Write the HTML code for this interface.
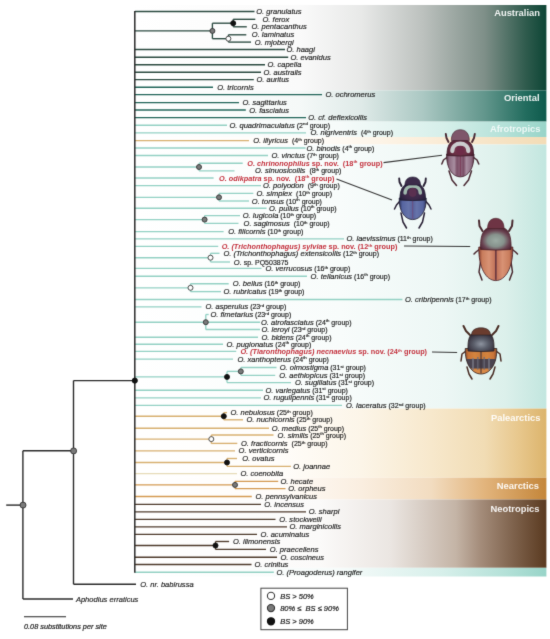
<!DOCTYPE html>
<html><head><meta charset="utf-8"><style>
html,body{margin:0;padding:0;background:#ffffff;}
body{width:550px;height:639px;overflow:hidden;font-family:"Liberation Sans",sans-serif;}
svg{display:block;}
</style></head><body>
<svg width="550" height="639" viewBox="0 0 550 639"><defs><filter id="soft" x="0" y="0" width="550" height="639" filterUnits="userSpaceOnUse" color-interpolation-filters="sRGB"><feConvolveMatrix order="3" kernelMatrix="0.0183 0.1353 0.0183 0.1353 1.0000 0.1353 0.0183 0.1353 0.0183" edgeMode="duplicate" preserveAlpha="true"/></filter></defs><g filter="url(#soft)"><rect width="550" height="639" fill="#fff"/><defs>
<linearGradient id="g_aus" x1="0" x2="1" y1="0" y2="0"><stop offset="0" stop-color="#ffffff"/><stop offset="0.4" stop-color="#fafafa"/><stop offset="0.55" stop-color="#e8e9e8"/><stop offset="0.7" stop-color="#bcc1be"/><stop offset="0.85" stop-color="#7e8f88"/><stop offset="0.95" stop-color="#2f5b4d"/><stop offset="1" stop-color="#0d4535"/></linearGradient>
<linearGradient id="g_ori" x1="0" x2="1" y1="0" y2="0"><stop offset="0" stop-color="#ffffff"/><stop offset="0.4" stop-color="#f5f9f8"/><stop offset="0.55" stop-color="#dfeae8"/><stop offset="0.7" stop-color="#abc8c3"/><stop offset="0.85" stop-color="#62968c"/><stop offset="0.95" stop-color="#226c5e"/><stop offset="1" stop-color="#0e5a4c"/></linearGradient>
<linearGradient id="g_afr" x1="0" x2="1" y1="0" y2="0"><stop offset="0" stop-color="#ffffff"/><stop offset="0.5" stop-color="#f8fcfb"/><stop offset="0.75" stop-color="#edf7f5"/><stop offset="0.9" stop-color="#dcf0eb"/><stop offset="1" stop-color="#c2e6df"/></linearGradient>
<linearGradient id="g_afrt" x1="0" x2="1" y1="0" y2="0"><stop offset="0" stop-color="#ffffff"/><stop offset="0.5" stop-color="#f6fbfa"/><stop offset="0.75" stop-color="#d6efea"/><stop offset="0.9" stop-color="#b4e1d8"/><stop offset="1" stop-color="#98d4c8"/></linearGradient>
<linearGradient id="g_pal" x1="0" x2="1" y1="0" y2="0"><stop offset="0" stop-color="#ffffff"/><stop offset="0.35" stop-color="#fffdfa"/><stop offset="0.55" stop-color="#fcf5e8"/><stop offset="0.72" stop-color="#f7e8cc"/><stop offset="0.85" stop-color="#f1dcb4"/><stop offset="0.93" stop-color="#e8c88e"/><stop offset="1" stop-color="#dcb46c"/></linearGradient>
<linearGradient id="g_pal2" x1="0" x2="1" y1="0" y2="0"><stop offset="0" stop-color="#ffffff"/><stop offset="0.45" stop-color="#fffcf8"/><stop offset="0.7" stop-color="#fbeedb"/><stop offset="1" stop-color="#f3dcb6"/></linearGradient>
<linearGradient id="g_nea" x1="0" x2="1" y1="0" y2="0"><stop offset="0" stop-color="#ffffff"/><stop offset="0.35" stop-color="#fffcf9"/><stop offset="0.55" stop-color="#faeee0"/><stop offset="0.72" stop-color="#f2dcc0"/><stop offset="0.85" stop-color="#e2b47c"/><stop offset="1" stop-color="#c4863a"/></linearGradient>
<linearGradient id="g_neo" x1="0" x2="1" y1="0" y2="0"><stop offset="0" stop-color="#ffffff"/><stop offset="0.45" stop-color="#fbfaf9"/><stop offset="0.62" stop-color="#ebe6e2"/><stop offset="0.78" stop-color="#c4b4a6"/><stop offset="0.84" stop-color="#a48c7a"/><stop offset="0.92" stop-color="#7e624c"/><stop offset="1" stop-color="#5a3a20"/></linearGradient>
</defs>
<rect x="135" y="5" width="411.4" height="85.40" fill="url(#g_aus)"/>
<rect x="135" y="90.4" width="411.4" height="31.20" fill="url(#g_ori)"/>
<rect x="135" y="121.6" width="411.4" height="15.40" fill="url(#g_afrt)"/>
<rect x="135" y="137.0" width="411.4" height="7.50" fill="url(#g_pal2)"/>
<rect x="135" y="144.5" width="411.4" height="264.10" fill="url(#g_afr)"/>
<rect x="135" y="408.6" width="411.4" height="69.10" fill="url(#g_pal)"/>
<rect x="135" y="477.7" width="411.4" height="21.80" fill="url(#g_nea)"/>
<rect x="135" y="499.5" width="411.4" height="68.30" fill="url(#g_neo)"/>
<rect x="135" y="567.8" width="411.4" height="8.70" fill="url(#g_afrt)"/>
<text x="540" y="15.6" text-anchor="end" font-family="Liberation Sans" font-weight="bold" font-size="9.4" fill="#ffffff" fill-opacity="0.92">Australian</text>
<text x="539.5" y="100.8" text-anchor="end" font-family="Liberation Sans" font-weight="bold" font-size="9.4" fill="#ffffff" fill-opacity="0.92">Oriental</text>
<text x="540.5" y="131.6" text-anchor="end" font-family="Liberation Sans" font-weight="bold" font-size="9.4" fill="#ffffff" fill-opacity="0.8">Afrotropics</text>
<text x="540.5" y="421" text-anchor="end" font-family="Liberation Sans" font-weight="bold" font-size="9.4" fill="#ffffff" fill-opacity="0.92">Palearctics</text>
<text x="539" y="489" text-anchor="end" font-family="Liberation Sans" font-weight="bold" font-size="9.4" fill="#ffffff" fill-opacity="0.92">Nearctics</text>
<text x="539.5" y="512.3" text-anchor="end" font-family="Liberation Sans" font-weight="bold" font-size="9.4" fill="#ffffff" fill-opacity="0.92">Neotropics</text>
<line x1="135" y1="11.5" x2="254.5" y2="11.5" stroke="#2b4a40" stroke-width="1.35"/>
<line x1="233.2" y1="19.3" x2="255.3" y2="19.3" stroke="#2b4a40" stroke-width="1.35"/>
<line x1="233.2" y1="26.8" x2="246.8" y2="26.8" stroke="#2b4a40" stroke-width="1.35"/>
<line x1="228.4" y1="34.8" x2="246.3" y2="34.8" stroke="#2b4a40" stroke-width="1.35"/>
<line x1="228.4" y1="42.1" x2="251" y2="42.1" stroke="#2b4a40" stroke-width="1.35"/>
<line x1="135" y1="49.5" x2="285" y2="49.5" stroke="#2b4a40" stroke-width="1.35"/>
<line x1="135" y1="57.2" x2="288.2" y2="57.2" stroke="#2b4a40" stroke-width="1.35"/>
<line x1="135" y1="64.7" x2="265" y2="64.7" stroke="#2b4a40" stroke-width="1.35"/>
<line x1="135" y1="72.2" x2="261" y2="72.2" stroke="#2b4a40" stroke-width="1.35"/>
<line x1="135" y1="79.6" x2="253.8" y2="79.6" stroke="#2b4a40" stroke-width="1.35"/>
<line x1="135" y1="87.2" x2="213" y2="87.2" stroke="#22665a" stroke-width="1.35"/>
<line x1="135" y1="94.6" x2="322" y2="94.6" stroke="#22665a" stroke-width="1.35"/>
<line x1="135" y1="102.6" x2="239" y2="102.6" stroke="#22665a" stroke-width="1.35"/>
<line x1="135" y1="110" x2="245.8" y2="110" stroke="#22665a" stroke-width="1.35"/>
<line x1="135" y1="117.6" x2="306" y2="117.6" stroke="#22665a" stroke-width="1.35"/>
<line x1="135" y1="125.2" x2="227" y2="125.2" stroke="#93d1c4" stroke-width="1.35"/>
<line x1="135" y1="132.8" x2="306" y2="132.8" stroke="#93d1c4" stroke-width="1.35"/>
<line x1="135" y1="140.6" x2="249" y2="140.6" stroke="#d8b070" stroke-width="1.35"/>
<line x1="135" y1="148" x2="305.6" y2="148" stroke="#93d1c4" stroke-width="1.35"/>
<line x1="135" y1="155.5" x2="268" y2="155.5" stroke="#93d1c4" stroke-width="1.35"/>
<line x1="199" y1="163.2" x2="242.7" y2="163.2" stroke="#93d1c4" stroke-width="1.35"/>
<line x1="199" y1="170.8" x2="234.5" y2="170.8" stroke="#93d1c4" stroke-width="1.35"/>
<line x1="135" y1="178" x2="213.6" y2="178" stroke="#93d1c4" stroke-width="1.35"/>
<line x1="135" y1="185.6" x2="261" y2="185.6" stroke="#93d1c4" stroke-width="1.35"/>
<line x1="219" y1="193.4" x2="253.3" y2="193.4" stroke="#93d1c4" stroke-width="1.35"/>
<line x1="219" y1="201.0" x2="249" y2="201.0" stroke="#93d1c4" stroke-width="1.35"/>
<line x1="135" y1="208.2" x2="266.5" y2="208.2" stroke="#93d1c4" stroke-width="1.35"/>
<line x1="204.6" y1="215.6" x2="240" y2="215.6" stroke="#93d1c4" stroke-width="1.35"/>
<line x1="204.6" y1="223.4" x2="238.5" y2="223.4" stroke="#93d1c4" stroke-width="1.35"/>
<line x1="135" y1="231.6" x2="223.6" y2="231.6" stroke="#93d1c4" stroke-width="1.35"/>
<line x1="135" y1="238.9" x2="344" y2="238.9" stroke="#93d1c4" stroke-width="1.35"/>
<line x1="135" y1="246.3" x2="218.2" y2="246.3" stroke="#93d1c4" stroke-width="1.35"/>
<line x1="210.5" y1="253.3" x2="219.5" y2="253.3" stroke="#93d1c4" stroke-width="1.35"/>
<line x1="210.5" y1="262.0" x2="230" y2="262.0" stroke="#93d1c4" stroke-width="1.35"/>
<line x1="135" y1="268.4" x2="261.5" y2="268.4" stroke="#93d1c4" stroke-width="1.35"/>
<line x1="135" y1="276.2" x2="307" y2="276.2" stroke="#93d1c4" stroke-width="1.35"/>
<line x1="190.5" y1="283.7" x2="228.7" y2="283.7" stroke="#93d1c4" stroke-width="1.35"/>
<line x1="190.5" y1="291.6" x2="220.9" y2="291.6" stroke="#93d1c4" stroke-width="1.35"/>
<line x1="135" y1="299.5" x2="402.4" y2="299.5" stroke="#93d1c4" stroke-width="1.35"/>
<line x1="135" y1="306.9" x2="201.5" y2="306.9" stroke="#93d1c4" stroke-width="1.35"/>
<line x1="205.8" y1="314.5" x2="208.7" y2="314.5" stroke="#93d1c4" stroke-width="1.35"/>
<line x1="205.8" y1="322.2" x2="260" y2="322.2" stroke="#93d1c4" stroke-width="1.35"/>
<line x1="205.8" y1="329.5" x2="260" y2="329.5" stroke="#93d1c4" stroke-width="1.35"/>
<line x1="135" y1="337.2" x2="258" y2="337.2" stroke="#93d1c4" stroke-width="1.35"/>
<line x1="135" y1="344.2" x2="223" y2="344.2" stroke="#93d1c4" stroke-width="1.35"/>
<line x1="135" y1="351.4" x2="236.2" y2="351.4" stroke="#93d1c4" stroke-width="1.35"/>
<line x1="135" y1="359.1" x2="233" y2="359.1" stroke="#93d1c4" stroke-width="1.35"/>
<line x1="241" y1="367.5" x2="276.5" y2="367.5" stroke="#93d1c4" stroke-width="1.35"/>
<line x1="241" y1="375.3" x2="275.2" y2="375.3" stroke="#93d1c4" stroke-width="1.35"/>
<line x1="227" y1="382.6" x2="291" y2="382.6" stroke="#93d1c4" stroke-width="1.35"/>
<line x1="135" y1="390.2" x2="263" y2="390.2" stroke="#93d1c4" stroke-width="1.35"/>
<line x1="135" y1="397.8" x2="261" y2="397.8" stroke="#93d1c4" stroke-width="1.35"/>
<line x1="135" y1="405.3" x2="342" y2="405.3" stroke="#93d1c4" stroke-width="1.35"/>
<line x1="223.8" y1="412.6" x2="227" y2="412.6" stroke="#d8b070" stroke-width="1.35"/>
<line x1="223.8" y1="419.8" x2="243" y2="419.8" stroke="#d8b070" stroke-width="1.35"/>
<line x1="135" y1="428.2" x2="269" y2="428.2" stroke="#d8b070" stroke-width="1.35"/>
<line x1="211.3" y1="435.0" x2="273.5" y2="435.0" stroke="#d8b070" stroke-width="1.35"/>
<line x1="211.3" y1="443.4" x2="237.3" y2="443.4" stroke="#d8b070" stroke-width="1.35"/>
<line x1="135" y1="450.8" x2="235" y2="450.8" stroke="#d8b070" stroke-width="1.35"/>
<line x1="227" y1="458.5" x2="237" y2="458.5" stroke="#d8b070" stroke-width="1.35"/>
<line x1="227" y1="466.3" x2="290.9" y2="466.3" stroke="#d8b070" stroke-width="1.35"/>
<line x1="135" y1="473.6" x2="237" y2="473.6" stroke="#e6dcb8" stroke-width="1.35"/>
<line x1="235" y1="481.3" x2="278.2" y2="481.3" stroke="#d49a52" stroke-width="1.35"/>
<line x1="235" y1="488.6" x2="285.5" y2="488.6" stroke="#d49a52" stroke-width="1.35"/>
<line x1="135" y1="496.5" x2="251.8" y2="496.5" stroke="#d49a52" stroke-width="1.35"/>
<line x1="135" y1="504.4" x2="261" y2="504.4" stroke="#4e3b2c" stroke-width="1.35"/>
<line x1="135" y1="511.8" x2="306" y2="511.8" stroke="#4e3b2c" stroke-width="1.35"/>
<line x1="135" y1="519.4" x2="275.5" y2="519.4" stroke="#4e3b2c" stroke-width="1.35"/>
<line x1="135" y1="526.8" x2="287" y2="526.8" stroke="#4e3b2c" stroke-width="1.35"/>
<line x1="135" y1="534.3" x2="257" y2="534.3" stroke="#4e3b2c" stroke-width="1.35"/>
<line x1="215.5" y1="541.5" x2="229.1" y2="541.5" stroke="#4e3b2c" stroke-width="1.35"/>
<line x1="215.5" y1="549.4" x2="266" y2="549.4" stroke="#4e3b2c" stroke-width="1.35"/>
<line x1="135" y1="557.2" x2="277" y2="557.2" stroke="#4e3b2c" stroke-width="1.35"/>
<line x1="135" y1="564.5" x2="251.5" y2="564.5" stroke="#4e3b2c" stroke-width="1.35"/>
<line x1="135" y1="572.2" x2="273.8" y2="572.2" stroke="#93d1c4" stroke-width="1.35"/>
<line x1="73.5" y1="584.2" x2="136" y2="584.2" stroke="#2b2b2b" stroke-width="1.4"/>
<line x1="22.9" y1="599.0" x2="73" y2="599.0" stroke="#2b2b2b" stroke-width="1.4"/>
<line x1="135" y1="30.9" x2="212.4" y2="30.9" stroke="#2b4a40" stroke-width="1.35"/>
<line x1="212.4" y1="23.2" x2="212.4" y2="38.7" stroke="#2b4a40" stroke-width="1.35"/>
<line x1="212.4" y1="23.2" x2="233.2" y2="23.2" stroke="#2b4a40" stroke-width="1.35"/>
<line x1="233.2" y1="19.3" x2="233.2" y2="26.8" stroke="#2b4a40" stroke-width="1.35"/>
<line x1="212.4" y1="38.7" x2="228.4" y2="38.7" stroke="#2b4a40" stroke-width="1.35"/>
<line x1="228.4" y1="34.8" x2="228.4" y2="42.1" stroke="#2b4a40" stroke-width="1.35"/>
<line x1="135" y1="167.0" x2="199" y2="167.0" stroke="#93d1c4" stroke-width="1.35"/>
<line x1="199" y1="163.2" x2="199" y2="170.8" stroke="#93d1c4" stroke-width="1.35"/>
<line x1="135" y1="197.3" x2="219" y2="197.3" stroke="#93d1c4" stroke-width="1.35"/>
<line x1="219" y1="193.4" x2="219" y2="201.0" stroke="#93d1c4" stroke-width="1.35"/>
<line x1="135" y1="219.6" x2="204.6" y2="219.6" stroke="#93d1c4" stroke-width="1.35"/>
<line x1="204.6" y1="215.6" x2="204.6" y2="223.4" stroke="#93d1c4" stroke-width="1.35"/>
<line x1="135" y1="257.7" x2="210.5" y2="257.7" stroke="#93d1c4" stroke-width="1.35"/>
<line x1="210.5" y1="253.3" x2="210.5" y2="262.0" stroke="#93d1c4" stroke-width="1.35"/>
<line x1="135" y1="287.8" x2="190.5" y2="287.8" stroke="#93d1c4" stroke-width="1.35"/>
<line x1="190.5" y1="283.7" x2="190.5" y2="291.6" stroke="#93d1c4" stroke-width="1.35"/>
<line x1="135" y1="322.2" x2="205.8" y2="322.2" stroke="#93d1c4" stroke-width="1.35"/>
<line x1="205.8" y1="314.5" x2="205.8" y2="329.5" stroke="#93d1c4" stroke-width="1.35"/>
<line x1="135" y1="376.9" x2="227" y2="376.9" stroke="#93d1c4" stroke-width="1.35"/>
<line x1="227" y1="371.4" x2="227" y2="382.6" stroke="#93d1c4" stroke-width="1.35"/>
<line x1="227" y1="371.4" x2="240.8" y2="371.4" stroke="#93d1c4" stroke-width="1.35"/>
<line x1="240.8" y1="367.5" x2="240.8" y2="375.3" stroke="#93d1c4" stroke-width="1.35"/>
<line x1="135" y1="416.2" x2="223.8" y2="416.2" stroke="#d8b070" stroke-width="1.35"/>
<line x1="223.8" y1="412.6" x2="223.8" y2="419.8" stroke="#d8b070" stroke-width="1.35"/>
<line x1="135" y1="439.1" x2="211.3" y2="439.1" stroke="#d8b070" stroke-width="1.35"/>
<line x1="211.3" y1="435.0" x2="211.3" y2="443.4" stroke="#d8b070" stroke-width="1.35"/>
<line x1="135" y1="462.5" x2="227" y2="462.5" stroke="#d8b070" stroke-width="1.35"/>
<line x1="227" y1="458.5" x2="227" y2="466.3" stroke="#d8b070" stroke-width="1.35"/>
<line x1="135" y1="484.9" x2="235" y2="484.9" stroke="#d49a52" stroke-width="1.35"/>
<line x1="235" y1="481.2" x2="235" y2="488.6" stroke="#d49a52" stroke-width="1.35"/>
<line x1="135" y1="545.5" x2="215.5" y2="545.5" stroke="#4e3b2c" stroke-width="1.35"/>
<line x1="215.5" y1="541.5" x2="215.5" y2="549.4" stroke="#4e3b2c" stroke-width="1.35"/>
<line x1="134.8" y1="11.0" x2="134.8" y2="572.8" stroke="#2a2a2a" stroke-width="1.5"/>
<line x1="73.5" y1="380.6" x2="135" y2="380.6" stroke="#2a2a2a" stroke-width="1.4"/>
<line x1="73.5" y1="380.6" x2="73.5" y2="584.2" stroke="#2a2a2a" stroke-width="1.4"/>
<line x1="22.9" y1="450.7" x2="73.5" y2="450.7" stroke="#2a2a2a" stroke-width="1.4"/>
<line x1="22.9" y1="450.7" x2="22.9" y2="599.0" stroke="#2a2a2a" stroke-width="1.4"/>
<line x1="6.2" y1="505.1" x2="22.9" y2="505.1" stroke="#2a2a2a" stroke-width="1.4"/>
<circle cx="212.4" cy="30.9" r="2.5" fill="#7a7a7a" stroke="#333333" stroke-width="0.9"/>
<circle cx="233.2" cy="23.2" r="2.5" fill="#111111" stroke="#111111" stroke-width="0.9"/>
<circle cx="228.4" cy="38.7" r="2.5" fill="#ffffff" stroke="#3a3a3a" stroke-width="0.9"/>
<circle cx="199" cy="167.0" r="2.5" fill="#7a7a7a" stroke="#333333" stroke-width="0.9"/>
<circle cx="219" cy="197.3" r="2.5" fill="#7a7a7a" stroke="#333333" stroke-width="0.9"/>
<circle cx="204.6" cy="219.6" r="2.5" fill="#7a7a7a" stroke="#333333" stroke-width="0.9"/>
<circle cx="210.5" cy="257.7" r="2.5" fill="#ffffff" stroke="#3a3a3a" stroke-width="0.9"/>
<circle cx="190.5" cy="287.8" r="2.5" fill="#ffffff" stroke="#3a3a3a" stroke-width="0.9"/>
<circle cx="205.8" cy="322.2" r="2.5" fill="#7a7a7a" stroke="#333333" stroke-width="0.9"/>
<circle cx="227" cy="376.9" r="2.5" fill="#111111" stroke="#111111" stroke-width="0.9"/>
<circle cx="240.8" cy="371.4" r="2.5" fill="#7a7a7a" stroke="#333333" stroke-width="0.9"/>
<circle cx="223.8" cy="416.2" r="2.5" fill="#111111" stroke="#111111" stroke-width="0.9"/>
<circle cx="211.3" cy="439.1" r="2.5" fill="#ffffff" stroke="#3a3a3a" stroke-width="0.9"/>
<circle cx="227" cy="462.5" r="2.5" fill="#111111" stroke="#111111" stroke-width="0.9"/>
<circle cx="235" cy="484.9" r="2.5" fill="#7a7a7a" stroke="#333333" stroke-width="0.9"/>
<circle cx="215.5" cy="545.5" r="2.5" fill="#111111" stroke="#111111" stroke-width="0.9"/>
<circle cx="134.8" cy="380.6" r="2.6" fill="#111111" stroke="#111111" stroke-width="0.9"/>
<circle cx="73.6" cy="450.9" r="3.0" fill="#7a7a7a" stroke="#333333" stroke-width="0.9"/>
<circle cx="23.0" cy="505.1" r="3.0" fill="#7a7a7a" stroke="#333333" stroke-width="0.9"/>
<text x="256.20" y="14.05" font-family="Liberation Sans" font-size="7.55" fill="#1a1a1a" stroke="#1a1a1a" stroke-width="0.15" xml:space="preserve"><tspan font-style="italic">O. granulatus</tspan></text>
<text x="262.50" y="21.85" font-family="Liberation Sans" font-size="7.55" fill="#1a1a1a" stroke="#1a1a1a" stroke-width="0.15" xml:space="preserve"><tspan font-style="italic">O. ferox</tspan></text>
<text x="251.40" y="29.35" font-family="Liberation Sans" font-size="7.55" fill="#1a1a1a" stroke="#1a1a1a" stroke-width="0.15" xml:space="preserve"><tspan font-style="italic">O. pentacanthus</tspan></text>
<text x="251.80" y="37.35" font-family="Liberation Sans" font-size="7.55" fill="#1a1a1a" stroke="#1a1a1a" stroke-width="0.15" xml:space="preserve"><tspan font-style="italic">O. laminatus</tspan></text>
<text x="254.70" y="44.65" font-family="Liberation Sans" font-size="7.55" fill="#1a1a1a" stroke="#1a1a1a" stroke-width="0.15" xml:space="preserve"><tspan font-style="italic">O. mjobergi</tspan></text>
<text x="286.40" y="52.05" font-family="Liberation Sans" font-size="7.55" fill="#1a1a1a" stroke="#1a1a1a" stroke-width="0.15" xml:space="preserve"><tspan font-style="italic">O. haagi</tspan></text>
<text x="290.40" y="59.75" font-family="Liberation Sans" font-size="7.55" fill="#1a1a1a" stroke="#1a1a1a" stroke-width="0.15" xml:space="preserve"><tspan font-style="italic">O. evanidus</tspan></text>
<text x="267.40" y="67.25" font-family="Liberation Sans" font-size="7.55" fill="#1a1a1a" stroke="#1a1a1a" stroke-width="0.15" xml:space="preserve"><tspan font-style="italic">O. capella</tspan></text>
<text x="263.40" y="74.75" font-family="Liberation Sans" font-size="7.55" fill="#1a1a1a" stroke="#1a1a1a" stroke-width="0.15" xml:space="preserve"><tspan font-style="italic">O. australis</tspan></text>
<text x="256.40" y="82.15" font-family="Liberation Sans" font-size="7.55" fill="#1a1a1a" stroke="#1a1a1a" stroke-width="0.15" xml:space="preserve"><tspan font-style="italic">O. auritus</tspan></text>
<text x="217.20" y="89.75" font-family="Liberation Sans" font-size="7.55" fill="#1a1a1a" stroke="#1a1a1a" stroke-width="0.15" xml:space="preserve"><tspan font-style="italic">O. tricornis</tspan></text>
<text x="325.40" y="97.15" font-family="Liberation Sans" font-size="7.55" fill="#1a1a1a" stroke="#1a1a1a" stroke-width="0.15" xml:space="preserve"><tspan font-style="italic">O. ochromerus</tspan></text>
<text x="242.40" y="105.15" font-family="Liberation Sans" font-size="7.55" fill="#1a1a1a" stroke="#1a1a1a" stroke-width="0.15" xml:space="preserve"><tspan font-style="italic">O. sagittarius</tspan></text>
<text x="249.20" y="112.55" font-family="Liberation Sans" font-size="7.55" fill="#1a1a1a" stroke="#1a1a1a" stroke-width="0.15" xml:space="preserve"><tspan font-style="italic">O. fasciatus</tspan></text>
<text x="308.20" y="120.15" font-family="Liberation Sans" font-size="7.55" fill="#1a1a1a" stroke="#1a1a1a" stroke-width="0.15" xml:space="preserve"><tspan font-style="italic">O. cf. deflexicollis</tspan></text>
<text x="229.40" y="127.75" font-family="Liberation Sans" font-size="7.55" fill="#1a1a1a" stroke="#1a1a1a" stroke-width="0.15" xml:space="preserve"><tspan font-style="italic">O. quadrimaculatus</tspan><tspan font-size="7.0"> (2</tspan><tspan font-size="4.3" dy="-2.3">nd</tspan><tspan font-size="7.0" dy="2.3"> group)</tspan></text>
<text x="310.40" y="135.35" font-family="Liberation Sans" font-size="7.55" fill="#1a1a1a" stroke="#1a1a1a" stroke-width="0.15" xml:space="preserve"><tspan font-style="italic">O. nigriventris </tspan><tspan font-size="7.0"> (4</tspan><tspan font-size="4.3" dy="-2.3">th</tspan><tspan font-size="7.0" dy="2.3"> group)</tspan></text>
<text x="253.20" y="143.15" font-family="Liberation Sans" font-size="7.55" fill="#1a1a1a" stroke="#1a1a1a" stroke-width="0.15" xml:space="preserve"><tspan font-style="italic">O. illyricus </tspan><tspan font-size="7.0"> (4</tspan><tspan font-size="4.3" dy="-2.3">th</tspan><tspan font-size="7.0" dy="2.3"> group)</tspan></text>
<text x="306.40" y="150.55" font-family="Liberation Sans" font-size="7.55" fill="#1a1a1a" stroke="#1a1a1a" stroke-width="0.15" xml:space="preserve"><tspan font-style="italic">O. binodis</tspan><tspan font-size="7.0"> (4</tspan><tspan font-size="4.3" dy="-2.3">th</tspan><tspan font-size="7.0" dy="2.3"> group)</tspan></text>
<text x="271.40" y="158.05" font-family="Liberation Sans" font-size="7.55" fill="#1a1a1a" stroke="#1a1a1a" stroke-width="0.15" xml:space="preserve"><tspan font-style="italic">O. vinctus</tspan><tspan font-size="7.0"> (7</tspan><tspan font-size="4.3" dy="-2.3">th</tspan><tspan font-size="7.0" dy="2.3"> group)</tspan></text>
<text x="247.30" y="165.75" font-family="Liberation Sans" font-size="7.3" font-weight="bold" fill="#c3303c" xml:space="preserve"><tspan font-style="italic">O. chrinonophilus</tspan><tspan font-size="7.3"> sp. nov. </tspan><tspan font-size="7.3"> (18</tspan><tspan font-size="4.3" dy="-2.3">th</tspan><tspan font-size="7.3" dy="2.3"> group)</tspan></text>
<text x="255.00" y="173.35" font-family="Liberation Sans" font-size="7.55" fill="#1a1a1a" stroke="#1a1a1a" stroke-width="0.15" xml:space="preserve"><tspan font-style="italic">O. sinuosicollis </tspan><tspan font-size="7.0"> (8</tspan><tspan font-size="4.3" dy="-2.3">th</tspan><tspan font-size="7.0" dy="2.3"> group)</tspan></text>
<text x="219.00" y="180.55" font-family="Liberation Sans" font-size="7.3" font-weight="bold" fill="#c3303c" xml:space="preserve"><tspan font-style="italic">O. odikpatra</tspan><tspan font-size="7.3"> sp. nov. </tspan><tspan font-size="7.3"> (18</tspan><tspan font-size="4.3" dy="-2.3">th</tspan><tspan font-size="7.3" dy="2.3"> group)</tspan></text>
<text x="263.00" y="188.15" font-family="Liberation Sans" font-size="7.55" fill="#1a1a1a" stroke="#1a1a1a" stroke-width="0.15" xml:space="preserve"><tspan font-style="italic">O. polyodon </tspan><tspan font-size="7.0"> (9</tspan><tspan font-size="4.3" dy="-2.3">th</tspan><tspan font-size="7.0" dy="2.3"> group)</tspan></text>
<text x="256.40" y="195.95" font-family="Liberation Sans" font-size="7.55" fill="#1a1a1a" stroke="#1a1a1a" stroke-width="0.15" xml:space="preserve"><tspan font-style="italic">O. simplex </tspan><tspan font-size="7.0"> (10</tspan><tspan font-size="4.3" dy="-2.3">th</tspan><tspan font-size="7.0" dy="2.3"> group)</tspan></text>
<text x="251.80" y="203.55" font-family="Liberation Sans" font-size="7.55" fill="#1a1a1a" stroke="#1a1a1a" stroke-width="0.15" xml:space="preserve"><tspan font-style="italic">O. tonsus</tspan><tspan font-size="7.0"> (10</tspan><tspan font-size="4.3" dy="-2.3">th</tspan><tspan font-size="7.0" dy="2.3"> group)</tspan></text>
<text x="269.00" y="210.75" font-family="Liberation Sans" font-size="7.55" fill="#1a1a1a" stroke="#1a1a1a" stroke-width="0.15" xml:space="preserve"><tspan font-style="italic">O. pullus</tspan><tspan font-size="7.0"> (10</tspan><tspan font-size="4.3" dy="-2.3">th</tspan><tspan font-size="7.0" dy="2.3"> group)</tspan></text>
<text x="242.70" y="218.15" font-family="Liberation Sans" font-size="7.55" fill="#1a1a1a" stroke="#1a1a1a" stroke-width="0.15" xml:space="preserve"><tspan font-style="italic">O. lugicola</tspan><tspan font-size="7.0"> (10</tspan><tspan font-size="4.3" dy="-2.3">th</tspan><tspan font-size="7.0" dy="2.3"> group)</tspan></text>
<text x="243.60" y="225.95" font-family="Liberation Sans" font-size="7.55" fill="#1a1a1a" stroke="#1a1a1a" stroke-width="0.15" xml:space="preserve"><tspan font-style="italic">O. sagimosus </tspan><tspan font-size="7.0"> (10</tspan><tspan font-size="4.3" dy="-2.3">th</tspan><tspan font-size="7.0" dy="2.3"> group)</tspan></text>
<text x="228.20" y="234.15" font-family="Liberation Sans" font-size="7.55" fill="#1a1a1a" stroke="#1a1a1a" stroke-width="0.15" xml:space="preserve"><tspan font-style="italic">O. filicornis</tspan><tspan font-size="7.0"> (10</tspan><tspan font-size="4.3" dy="-2.3">th</tspan><tspan font-size="7.0" dy="2.3"> group)</tspan></text>
<text x="346.40" y="241.45" font-family="Liberation Sans" font-size="7.55" fill="#1a1a1a" stroke="#1a1a1a" stroke-width="0.15" xml:space="preserve"><tspan font-style="italic">O. laevissimus</tspan><tspan font-size="7.0"> (11</tspan><tspan font-size="4.3" dy="-2.3">th</tspan><tspan font-size="7.0" dy="2.3"> group)</tspan></text>
<text x="221.70" y="248.85" font-family="Liberation Sans" font-size="7.3" font-weight="bold" fill="#c3303c" xml:space="preserve"><tspan font-style="italic">O. (Trichonthophagus) sylviae</tspan><tspan font-size="7.3"> sp. nov.</tspan><tspan font-size="7.3"> (12</tspan><tspan font-size="4.3" dy="-2.3">th</tspan><tspan font-size="7.3" dy="2.3"> group)</tspan></text>
<text x="223.40" y="255.85" font-family="Liberation Sans" font-size="7.55" fill="#1a1a1a" stroke="#1a1a1a" stroke-width="0.15" xml:space="preserve"><tspan font-style="italic">O. (Trichonthophagus) extensicollis</tspan><tspan font-size="7.0"> (12</tspan><tspan font-size="4.3" dy="-2.3">th</tspan><tspan font-size="7.0" dy="2.3"> group)</tspan></text>
<text x="233.80" y="264.55" font-family="Liberation Sans" font-size="7.55" fill="#1a1a1a" stroke="#1a1a1a" stroke-width="0.15" xml:space="preserve"><tspan font-style="italic">O.</tspan><tspan font-size="7.0"> sp. PQ503875</tspan></text>
<text x="265.40" y="270.95" font-family="Liberation Sans" font-size="7.55" fill="#1a1a1a" stroke="#1a1a1a" stroke-width="0.15" xml:space="preserve"><tspan font-style="italic">O. verrucosus</tspan><tspan font-size="7.0"> (16</tspan><tspan font-size="4.3" dy="-2.3">th</tspan><tspan font-size="7.0" dy="2.3"> group)</tspan></text>
<text x="310.60" y="278.75" font-family="Liberation Sans" font-size="7.55" fill="#1a1a1a" stroke="#1a1a1a" stroke-width="0.15" xml:space="preserve"><tspan font-style="italic">O. tellanicus</tspan><tspan font-size="7.0"> (16</tspan><tspan font-size="4.3" dy="-2.3">th</tspan><tspan font-size="7.0" dy="2.3"> group)</tspan></text>
<text x="232.80" y="286.25" font-family="Liberation Sans" font-size="7.55" fill="#1a1a1a" stroke="#1a1a1a" stroke-width="0.15" xml:space="preserve"><tspan font-style="italic">O. bellus</tspan><tspan font-size="7.0"> (16</tspan><tspan font-size="4.3" dy="-2.3">th</tspan><tspan font-size="7.0" dy="2.3"> group)</tspan></text>
<text x="223.40" y="294.15" font-family="Liberation Sans" font-size="7.55" fill="#1a1a1a" stroke="#1a1a1a" stroke-width="0.15" xml:space="preserve"><tspan font-style="italic">O. rubricatus</tspan><tspan font-size="7.0"> (19</tspan><tspan font-size="4.3" dy="-2.3">th</tspan><tspan font-size="7.0" dy="2.3"> group)</tspan></text>
<text x="405.00" y="302.05" font-family="Liberation Sans" font-size="7.55" fill="#1a1a1a" stroke="#1a1a1a" stroke-width="0.15" xml:space="preserve"><tspan font-style="italic">O. cribripennis</tspan><tspan font-size="7.0"> (17</tspan><tspan font-size="4.3" dy="-2.3">th</tspan><tspan font-size="7.0" dy="2.3"> group)</tspan></text>
<text x="205.40" y="309.45" font-family="Liberation Sans" font-size="7.55" fill="#1a1a1a" stroke="#1a1a1a" stroke-width="0.15" xml:space="preserve"><tspan font-style="italic">O. asperulus</tspan><tspan font-size="7.0"> (23</tspan><tspan font-size="4.3" dy="-2.3">rd</tspan><tspan font-size="7.0" dy="2.3"> group)</tspan></text>
<text x="210.40" y="317.05" font-family="Liberation Sans" font-size="7.55" fill="#1a1a1a" stroke="#1a1a1a" stroke-width="0.15" xml:space="preserve"><tspan font-style="italic">O. fimetarius</tspan><tspan font-size="7.0"> (23</tspan><tspan font-size="4.3" dy="-2.3">rd</tspan><tspan font-size="7.0" dy="2.3"> group)</tspan></text>
<text x="260.90" y="324.75" font-family="Liberation Sans" font-size="7.55" fill="#1a1a1a" stroke="#1a1a1a" stroke-width="0.15" xml:space="preserve"><tspan font-style="italic">O. atrofasciatus</tspan><tspan font-size="7.0"> (24</tspan><tspan font-size="4.3" dy="-2.3">th</tspan><tspan font-size="7.0" dy="2.3"> group)</tspan></text>
<text x="261.40" y="332.05" font-family="Liberation Sans" font-size="7.55" fill="#1a1a1a" stroke="#1a1a1a" stroke-width="0.15" xml:space="preserve"><tspan font-style="italic">O. leroyi</tspan><tspan font-size="7.0"> (23</tspan><tspan font-size="4.3" dy="-2.3">rd</tspan><tspan font-size="7.0" dy="2.3"> group)</tspan></text>
<text x="261.40" y="339.75" font-family="Liberation Sans" font-size="7.55" fill="#1a1a1a" stroke="#1a1a1a" stroke-width="0.15" xml:space="preserve"><tspan font-style="italic">O. bidens</tspan><tspan font-size="7.0"> (24</tspan><tspan font-size="4.3" dy="-2.3">th</tspan><tspan font-size="7.0" dy="2.3"> group)</tspan></text>
<text x="226.40" y="346.75" font-family="Liberation Sans" font-size="7.55" fill="#1a1a1a" stroke="#1a1a1a" stroke-width="0.15" xml:space="preserve"><tspan font-style="italic">O. pugionatus</tspan><tspan font-size="7.0"> (24</tspan><tspan font-size="4.3" dy="-2.3">th</tspan><tspan font-size="7.0" dy="2.3"> group)</tspan></text>
<text x="240.40" y="353.95" font-family="Liberation Sans" font-size="7.3" font-weight="bold" fill="#c3303c" xml:space="preserve"><tspan font-style="italic">O. (Tiaronthophagus) necnaevius</tspan><tspan font-size="7.3"> sp. nov.</tspan><tspan font-size="7.3"> (24</tspan><tspan font-size="4.3" dy="-2.3">th</tspan><tspan font-size="7.3" dy="2.3"> group)</tspan></text>
<text x="237.40" y="361.65" font-family="Liberation Sans" font-size="7.55" fill="#1a1a1a" stroke="#1a1a1a" stroke-width="0.15" xml:space="preserve"><tspan font-style="italic">O. xanthopterus</tspan><tspan font-size="7.0"> (24</tspan><tspan font-size="4.3" dy="-2.3">th</tspan><tspan font-size="7.0" dy="2.3"> group)</tspan></text>
<text x="279.70" y="370.05" font-family="Liberation Sans" font-size="7.55" fill="#1a1a1a" stroke="#1a1a1a" stroke-width="0.15" xml:space="preserve"><tspan font-style="italic">O. olmostigma</tspan><tspan font-size="7.0"> (31</tspan><tspan font-size="4.3" dy="-2.3">st</tspan><tspan font-size="7.0" dy="2.3"> group)</tspan></text>
<text x="279.20" y="377.85" font-family="Liberation Sans" font-size="7.55" fill="#1a1a1a" stroke="#1a1a1a" stroke-width="0.15" xml:space="preserve"><tspan font-style="italic">O. aethiopicus</tspan><tspan font-size="7.0"> (31</tspan><tspan font-size="4.3" dy="-2.3">st</tspan><tspan font-size="7.0" dy="2.3"> group)</tspan></text>
<text x="294.90" y="385.15" font-family="Liberation Sans" font-size="7.55" fill="#1a1a1a" stroke="#1a1a1a" stroke-width="0.15" xml:space="preserve"><tspan font-style="italic">O. sugillatus</tspan><tspan font-size="7.0"> (31</tspan><tspan font-size="4.3" dy="-2.3">st</tspan><tspan font-size="7.0" dy="2.3"> group)</tspan></text>
<text x="265.40" y="392.75" font-family="Liberation Sans" font-size="7.55" fill="#1a1a1a" stroke="#1a1a1a" stroke-width="0.15" xml:space="preserve"><tspan font-style="italic">O. variegatus</tspan><tspan font-size="7.0"> (31</tspan><tspan font-size="4.3" dy="-2.3">st</tspan><tspan font-size="7.0" dy="2.3"> group)</tspan></text>
<text x="263.40" y="400.35" font-family="Liberation Sans" font-size="7.55" fill="#1a1a1a" stroke="#1a1a1a" stroke-width="0.15" xml:space="preserve"><tspan font-style="italic">O. rugulipennis</tspan><tspan font-size="7.0"> (31</tspan><tspan font-size="4.3" dy="-2.3">st</tspan><tspan font-size="7.0" dy="2.3"> group)</tspan></text>
<text x="345.90" y="407.85" font-family="Liberation Sans" font-size="7.55" fill="#1a1a1a" stroke="#1a1a1a" stroke-width="0.15" xml:space="preserve"><tspan font-style="italic">O. laceratus</tspan><tspan font-size="7.0"> (32</tspan><tspan font-size="4.3" dy="-2.3">nd</tspan><tspan font-size="7.0" dy="2.3"> group)</tspan></text>
<text x="230.40" y="415.15" font-family="Liberation Sans" font-size="7.55" fill="#1a1a1a" stroke="#1a1a1a" stroke-width="0.15" xml:space="preserve"><tspan font-style="italic">O. nebulosus</tspan><tspan font-size="7.0"> (25</tspan><tspan font-size="4.3" dy="-2.3">th</tspan><tspan font-size="7.0" dy="2.3"> group)</tspan></text>
<text x="246.40" y="422.35" font-family="Liberation Sans" font-size="7.55" fill="#1a1a1a" stroke="#1a1a1a" stroke-width="0.15" xml:space="preserve"><tspan font-style="italic">O. nuchicornis</tspan><tspan font-size="7.0"> (25</tspan><tspan font-size="4.3" dy="-2.3">th</tspan><tspan font-size="7.0" dy="2.3"> group)</tspan></text>
<text x="271.80" y="430.75" font-family="Liberation Sans" font-size="7.55" fill="#1a1a1a" stroke="#1a1a1a" stroke-width="0.15" xml:space="preserve"><tspan font-style="italic">O. medius</tspan><tspan font-size="7.0"> (25</tspan><tspan font-size="4.3" dy="-2.3">th</tspan><tspan font-size="7.0" dy="2.3"> group)</tspan></text>
<text x="277.60" y="437.55" font-family="Liberation Sans" font-size="7.55" fill="#1a1a1a" stroke="#1a1a1a" stroke-width="0.15" xml:space="preserve"><tspan font-style="italic">O. similis</tspan><tspan font-size="7.0"> (25</tspan><tspan font-size="4.3" dy="-2.3">th</tspan><tspan font-size="7.0" dy="2.3"> group)</tspan></text>
<text x="241.00" y="445.95" font-family="Liberation Sans" font-size="7.55" fill="#1a1a1a" stroke="#1a1a1a" stroke-width="0.15" xml:space="preserve"><tspan font-style="italic">O. fracticornis </tspan><tspan font-size="7.0"> (25</tspan><tspan font-size="4.3" dy="-2.3">th</tspan><tspan font-size="7.0" dy="2.3"> group)</tspan></text>
<text x="238.60" y="453.35" font-family="Liberation Sans" font-size="7.55" fill="#1a1a1a" stroke="#1a1a1a" stroke-width="0.15" xml:space="preserve"><tspan font-style="italic">O. verticicornis</tspan></text>
<text x="242.20" y="461.05" font-family="Liberation Sans" font-size="7.55" fill="#1a1a1a" stroke="#1a1a1a" stroke-width="0.15" xml:space="preserve"><tspan font-style="italic">O. ovatus</tspan></text>
<text x="293.20" y="468.85" font-family="Liberation Sans" font-size="7.55" fill="#1a1a1a" stroke="#1a1a1a" stroke-width="0.15" xml:space="preserve"><tspan font-style="italic">O. joannae</tspan></text>
<text x="240.40" y="476.15" font-family="Liberation Sans" font-size="7.55" fill="#1a1a1a" stroke="#1a1a1a" stroke-width="0.15" xml:space="preserve"><tspan font-style="italic">O. coenobita</tspan></text>
<text x="280.40" y="483.85" font-family="Liberation Sans" font-size="7.55" fill="#1a1a1a" stroke="#1a1a1a" stroke-width="0.15" xml:space="preserve"><tspan font-style="italic">O. hecate</tspan></text>
<text x="288.20" y="491.15" font-family="Liberation Sans" font-size="7.55" fill="#1a1a1a" stroke="#1a1a1a" stroke-width="0.15" xml:space="preserve"><tspan font-style="italic">O. orpheus</tspan></text>
<text x="255.40" y="499.05" font-family="Liberation Sans" font-size="7.55" fill="#1a1a1a" stroke="#1a1a1a" stroke-width="0.15" xml:space="preserve"><tspan font-style="italic">O. pennsylvanicus</tspan></text>
<text x="264.20" y="506.95" font-family="Liberation Sans" font-size="7.55" fill="#1a1a1a" stroke="#1a1a1a" stroke-width="0.15" xml:space="preserve"><tspan font-style="italic">O. incensus</tspan></text>
<text x="308.70" y="514.35" font-family="Liberation Sans" font-size="7.55" fill="#1a1a1a" stroke="#1a1a1a" stroke-width="0.15" xml:space="preserve"><tspan font-style="italic">O. sharpi</tspan></text>
<text x="279.30" y="521.95" font-family="Liberation Sans" font-size="7.55" fill="#1a1a1a" stroke="#1a1a1a" stroke-width="0.15" xml:space="preserve"><tspan font-style="italic">O. stockwelli</tspan></text>
<text x="289.40" y="529.35" font-family="Liberation Sans" font-size="7.55" fill="#1a1a1a" stroke="#1a1a1a" stroke-width="0.15" xml:space="preserve"><tspan font-style="italic">O. marginicollis</tspan></text>
<text x="260.60" y="536.85" font-family="Liberation Sans" font-size="7.55" fill="#1a1a1a" stroke="#1a1a1a" stroke-width="0.15" xml:space="preserve"><tspan font-style="italic">O. acuminatus</tspan></text>
<text x="232.90" y="544.05" font-family="Liberation Sans" font-size="7.55" fill="#1a1a1a" stroke="#1a1a1a" stroke-width="0.15" xml:space="preserve"><tspan font-style="italic">O. ilimonensis</tspan></text>
<text x="269.80" y="551.95" font-family="Liberation Sans" font-size="7.55" fill="#1a1a1a" stroke="#1a1a1a" stroke-width="0.15" xml:space="preserve"><tspan font-style="italic">O. praecellens</tspan></text>
<text x="280.40" y="559.75" font-family="Liberation Sans" font-size="7.55" fill="#1a1a1a" stroke="#1a1a1a" stroke-width="0.15" xml:space="preserve"><tspan font-style="italic">O. coscineus</tspan></text>
<text x="254.40" y="567.05" font-family="Liberation Sans" font-size="7.55" fill="#1a1a1a" stroke="#1a1a1a" stroke-width="0.15" xml:space="preserve"><tspan font-style="italic">O. crinitus</tspan></text>
<text x="276.40" y="574.75" font-family="Liberation Sans" font-size="7.55" fill="#1a1a1a" stroke="#1a1a1a" stroke-width="0.15" xml:space="preserve"><tspan font-style="italic">O. (Proagoderus) rangifer</tspan></text>
<text x="140.20" y="586.75" font-family="Liberation Sans" font-size="7.55" fill="#1a1a1a" stroke="#1a1a1a" stroke-width="0.15" xml:space="preserve"><tspan font-style="italic">O. nr. babirussa</tspan></text>
<text x="75.90" y="601.55" font-family="Liberation Sans" font-size="7.55" fill="#1a1a1a" stroke="#1a1a1a" stroke-width="0.15" xml:space="preserve"><tspan font-style="italic">Aphodius erraticus</tspan></text>
<line x1="383.5" y1="162.6" x2="442" y2="155.2" stroke="#383838" stroke-width="1.15"/>
<line x1="336.5" y1="179" x2="392" y2="200" stroke="#383838" stroke-width="1.15"/>
<line x1="404" y1="246" x2="470.2" y2="246.5" stroke="#383838" stroke-width="1.15"/>
<line x1="432" y1="352" x2="457.1" y2="352.5" stroke="#383838" stroke-width="1.15"/>
<defs><linearGradient id="el1" x1="0" x2="1" y1="0" y2="0"><stop offset="0" stop-color="#5e3648"/><stop offset="0.1" stop-color="#8e6c82"/><stop offset="0.28" stop-color="#a88ea0"/><stop offset="0.38" stop-color="#7a4e66"/><stop offset="0.5" stop-color="#8e687e"/><stop offset="0.62" stop-color="#7a4e66"/><stop offset="0.72" stop-color="#a88ea0"/><stop offset="0.9" stop-color="#8e6c82"/><stop offset="1" stop-color="#5e3648"/></linearGradient><radialGradient id="pr1" cx="0.5" cy="0.58" r="0.6"><stop offset="0" stop-color="#7a3a52"/><stop offset="0.6" stop-color="#6a3045"/><stop offset="1" stop-color="#4a1e2e"/></radialGradient></defs>
<polyline points="448.5,142.0 446.5,138.0 445.8,134.0" fill="none" stroke="#4a2a34" stroke-width="1.9" stroke-linecap="round" stroke-linejoin="round"/>
<polyline points="472.0,142.0 474.0,138.0 474.8,134.0" fill="none" stroke="#4a2a34" stroke-width="1.9" stroke-linecap="round" stroke-linejoin="round"/>
<polyline points="447.5,157.0 443.5,160.0 441.8,164.0" fill="none" stroke="#4a2a34" stroke-width="1.5" stroke-linecap="round" stroke-linejoin="round"/>
<polyline points="473.0,157.0 477.0,160.0 478.8,164.0" fill="none" stroke="#4a2a34" stroke-width="1.5" stroke-linecap="round" stroke-linejoin="round"/>
<polyline points="449.0,171.0 452.0,180.0 456.5,185.5" fill="none" stroke="#4a2a34" stroke-width="1.5" stroke-linecap="round" stroke-linejoin="round"/>
<polyline points="471.5,171.0 468.5,180.0 464.0,185.5" fill="none" stroke="#4a2a34" stroke-width="1.5" stroke-linecap="round" stroke-linejoin="round"/>
<clipPath id="ec1"><path d="M446.60,154.00 L474.00,154.00 C474.50,168.20 467.97,176.90 460.30,176.90 C452.63,176.90 446.10,168.20 446.60,154.00 Z"/></clipPath>
<path d="M446.60,154.00 L474.00,154.00 C474.50,168.20 467.97,176.90 460.30,176.90 C452.63,176.90 446.10,168.20 446.60,154.00 Z" fill="url(#el1)"/>
<path d="M446.60,154.00 L474.00,154.00 C474.50,168.20 467.97,176.90 460.30,176.90 C452.63,176.90 446.10,168.20 446.60,154.00 Z" fill="none" stroke="#3e1c2a" stroke-width="0.8"/>
<line x1="460.30" y1="154.00" x2="460.30" y2="176.10" stroke="#7a3a55" stroke-width="1.0"/>
<path d="M447.05,155.50 C446.55,143.12 452.35,139.00 460.30,139.00 L460.30,139.00 C468.25,139.00 474.05,143.12 473.55,155.50 Q460.30,156.70 447.05,155.50 Z" fill="url(#pr1)" stroke="#3e1c2a" stroke-width="0.8"/>
<ellipse cx="460.30" cy="150.50" rx="4.00" ry="4.80" fill="#6e2c48" />
<path d="M452.30,151.10 C452.30,141.26 468.30,141.26 468.30,151.10" fill="none" stroke="#d4dada" stroke-width="4.2" stroke-linecap="round" opacity="0.92"/>
<path d="M451.30,140.50 C451.30,133.48 454.90,129.70 460.30,129.70 C465.70,129.70 469.30,133.48 469.30,140.50 Z" fill="#7e566a" stroke="#3e1c2a" stroke-width="0.6"/>
<defs><linearGradient id="el2" x1="0" x2="1" y1="0" y2="0"><stop offset="0" stop-color="#2e3560"/><stop offset="0.12" stop-color="#5664a0"/><stop offset="0.35" stop-color="#6674aa"/><stop offset="0.5" stop-color="#58629c"/><stop offset="0.65" stop-color="#6674aa"/><stop offset="0.88" stop-color="#5664a0"/><stop offset="1" stop-color="#2e3560"/></linearGradient><radialGradient id="pr2" cx="0.5" cy="0.58" r="0.6"><stop offset="0" stop-color="#4a3050"/><stop offset="0.6" stop-color="#3a2848"/><stop offset="1" stop-color="#24203a"/></radialGradient></defs>
<polyline points="401.5,186.0 399.5,182.0 399.2,178.5" fill="none" stroke="#2a2236" stroke-width="1.9" stroke-linecap="round" stroke-linejoin="round"/>
<polyline points="423.5,186.0 425.5,182.0 425.8,178.5" fill="none" stroke="#2a2236" stroke-width="1.9" stroke-linecap="round" stroke-linejoin="round"/>
<polyline points="400.0,201.0 396.5,205.0 394.5,209.0" fill="none" stroke="#2a2236" stroke-width="1.5" stroke-linecap="round" stroke-linejoin="round"/>
<polyline points="425.5,201.0 429.0,205.0 431.0,209.0" fill="none" stroke="#2a2236" stroke-width="1.5" stroke-linecap="round" stroke-linejoin="round"/>
<polyline points="401.0,213.0 403.0,222.0 406.5,228.0" fill="none" stroke="#2a2236" stroke-width="1.5" stroke-linecap="round" stroke-linejoin="round"/>
<polyline points="424.5,213.0 422.5,222.0 419.0,228.0" fill="none" stroke="#2a2236" stroke-width="1.5" stroke-linecap="round" stroke-linejoin="round"/>
<clipPath id="ec2"><path d="M399.20,198.00 L426.20,198.00 C426.70,211.39 420.26,219.60 412.70,219.60 C405.14,219.60 398.70,211.39 399.20,198.00 Z"/></clipPath>
<path d="M399.20,198.00 L426.20,198.00 C426.70,211.39 420.26,219.60 412.70,219.60 C405.14,219.60 398.70,211.39 399.20,198.00 Z" fill="url(#el2)"/>
<path d="M399.20,198.00 L426.20,198.00 C426.70,211.39 420.26,219.60 412.70,219.60 C405.14,219.60 398.70,211.39 399.20,198.00 Z" fill="none" stroke="#1e1a30" stroke-width="0.8"/>
<line x1="412.70" y1="198.00" x2="412.70" y2="218.80" stroke="#6a5080" stroke-width="1.0"/>
<path d="M399.95,200.00 C399.45,187.02 405.05,182.70 412.70,182.70 L412.70,182.70 C420.35,182.70 425.95,187.02 425.45,200.00 Q412.70,201.20 399.95,200.00 Z" fill="url(#pr2)" stroke="#1e1a30" stroke-width="0.8"/>
<ellipse cx="412.70" cy="192.50" rx="3.80" ry="4.40" fill="#5a3050" />
<path d="M405.10,193.10 C405.10,183.70 420.30,183.70 420.30,193.10" fill="none" stroke="#a9c6b6" stroke-width="3.5" stroke-linecap="round" opacity="0.92"/>
<path d="M404.95,185.00 C404.95,179.80 408.05,177.00 412.70,177.00 C417.35,177.00 420.45,179.80 420.45,185.00 Z" fill="#3c2c4a" stroke="#1e1a30" stroke-width="0.6"/>
<defs><linearGradient id="el3" x1="0" x2="1" y1="0" y2="0"><stop offset="0" stop-color="#8a4030"/><stop offset="0.1" stop-color="#c87c5c"/><stop offset="0.3" stop-color="#d89274"/><stop offset="0.46" stop-color="#c4765c"/><stop offset="0.5" stop-color="#8a4a48"/><stop offset="0.54" stop-color="#c4765c"/><stop offset="0.7" stop-color="#d89274"/><stop offset="0.9" stop-color="#c87c5c"/><stop offset="1" stop-color="#8a4030"/></linearGradient><radialGradient id="pr3" cx="0.5" cy="0.58" r="0.6"><stop offset="0" stop-color="#9cacA4"/><stop offset="0.45" stop-color="#86928c"/><stop offset="0.75" stop-color="#6a4452"/><stop offset="1" stop-color="#4e2432"/></radialGradient></defs>
<polyline points="482.5,231.0 479.5,226.0 479.0,220.5" fill="none" stroke="#4a2a30" stroke-width="2.0" stroke-linecap="round" stroke-linejoin="round"/>
<polyline points="509.0,231.0 512.0,226.0 512.5,220.5" fill="none" stroke="#4a2a30" stroke-width="2.0" stroke-linecap="round" stroke-linejoin="round"/>
<polyline points="481.0,248.0 476.0,252.0 474.0,254.0" fill="none" stroke="#4a2a30" stroke-width="1.5" stroke-linecap="round" stroke-linejoin="round"/>
<polyline points="510.5,248.0 515.5,252.0 517.5,254.0" fill="none" stroke="#4a2a30" stroke-width="1.5" stroke-linecap="round" stroke-linejoin="round"/>
<polyline points="480.5,262.0 479.0,272.0 482.0,280.0" fill="none" stroke="#4a2a30" stroke-width="1.5" stroke-linecap="round" stroke-linejoin="round"/>
<polyline points="511.0,262.0 512.5,272.0 509.5,280.0" fill="none" stroke="#4a2a30" stroke-width="1.5" stroke-linecap="round" stroke-linejoin="round"/>
<clipPath id="ec3"><path d="M478.80,247.00 L512.80,247.00 C513.30,267.83 505.32,280.60 495.80,280.60 C486.28,280.60 478.30,267.83 478.80,247.00 Z"/></clipPath>
<path d="M478.80,247.00 L512.80,247.00 C513.30,267.83 505.32,280.60 495.80,280.60 C486.28,280.60 478.30,267.83 478.80,247.00 Z" fill="url(#el3)"/>
<path d="M478.80,247.00 L512.80,247.00 C513.30,267.83 505.32,280.60 495.80,280.60 C486.28,280.60 478.30,267.83 478.80,247.00 Z" fill="none" stroke="#4a2028" stroke-width="0.8"/>
<line x1="495.80" y1="247.00" x2="495.80" y2="279.80" stroke="#6a3840" stroke-width="1.4"/>
<path d="M480.55,249.50 C480.05,233.00 484.36,227.50 491.23,227.50 L500.38,227.50 C507.24,227.50 511.55,233.00 511.05,249.50 Q495.80,250.70 480.55,249.50 Z" fill="url(#pr3)" stroke="#4a2028" stroke-width="0.8"/>
<path d="M487.55,228.50 C487.55,221.87 490.85,218.30 495.80,218.30 C500.75,218.30 504.05,221.87 504.05,228.50 Z" fill="#6e3444" stroke="#4a2028" stroke-width="0.6"/>
<defs><linearGradient id="el4" x1="0" x2="1" y1="0" y2="0"><stop offset="0" stop-color="#8a4a28"/><stop offset="0.1" stop-color="#c87438"/><stop offset="0.3" stop-color="#d4843e"/><stop offset="0.5" stop-color="#c87a3a"/><stop offset="0.7" stop-color="#d4843e"/><stop offset="0.9" stop-color="#c87438"/><stop offset="1" stop-color="#8a4a28"/></linearGradient><radialGradient id="pr4" cx="0.5" cy="0.58" r="0.6"><stop offset="0" stop-color="#8e94a0"/><stop offset="0.45" stop-color="#5c606c"/><stop offset="1" stop-color="#322c38"/></radialGradient></defs>
<polyline points="470.0,335.0 466.0,331.0 463.5,326.0" fill="none" stroke="#4a2e26" stroke-width="2.0" stroke-linecap="round" stroke-linejoin="round"/>
<polyline points="492.0,335.0 496.0,331.0 498.5,326.0" fill="none" stroke="#4a2e26" stroke-width="2.0" stroke-linecap="round" stroke-linejoin="round"/>
<polyline points="466.0,351.0 462.0,354.0 461.0,361.0" fill="none" stroke="#4a2e26" stroke-width="1.5" stroke-linecap="round" stroke-linejoin="round"/>
<polyline points="496.0,351.0 500.0,354.0 501.0,361.0" fill="none" stroke="#4a2e26" stroke-width="1.5" stroke-linecap="round" stroke-linejoin="round"/>
<polyline points="467.0,367.0 469.0,374.0 472.0,379.0" fill="none" stroke="#4a2e26" stroke-width="1.5" stroke-linecap="round" stroke-linejoin="round"/>
<polyline points="495.0,367.0 493.0,374.0 490.0,379.0" fill="none" stroke="#4a2e26" stroke-width="1.5" stroke-linecap="round" stroke-linejoin="round"/>
<clipPath id="ec4"><path d="M465.25,348.50 L496.75,348.50 C497.25,364.31 489.82,374.00 481.00,374.00 C472.18,374.00 464.75,364.31 465.25,348.50 Z"/></clipPath>
<path d="M465.25,348.50 L496.75,348.50 C497.25,364.31 489.82,374.00 481.00,374.00 C472.18,374.00 464.75,364.31 465.25,348.50 Z" fill="url(#el4)"/>
<g clip-path="url(#ec4)"><rect x="464.0" y="359" width="34" height="9.5" fill="#4a4450"/><rect x="472.0" y="358" width="2" height="12" fill="#7a7a86" opacity="0.7"/><rect x="488.0" y="358" width="2" height="12" fill="#7a7a86" opacity="0.7"/><rect x="477.0" y="357" width="1.6" height="13" fill="#6a6a76" opacity="0.7"/><rect x="483.4" y="357" width="1.6" height="13" fill="#6a6a76" opacity="0.7"/><ellipse cx="481.0" cy="372.5" rx="12" ry="3" fill="#d88a48"/></g>
<path d="M465.25,348.50 L496.75,348.50 C497.25,364.31 489.82,374.00 481.00,374.00 C472.18,374.00 464.75,364.31 465.25,348.50 Z" fill="none" stroke="#2e2224" stroke-width="0.8"/>
<line x1="481.00" y1="348.50" x2="481.00" y2="373.20" stroke="#3a3038" stroke-width="1.0"/>
<path d="M468.00,351.00 C467.50,337.88 470.08,333.50 474.76,333.50 L487.24,333.50 C491.92,333.50 494.50,337.88 494.00,351.00 Q481.00,352.20 468.00,351.00 Z" fill="url(#pr4)" stroke="#2e2224" stroke-width="0.8"/>
<path d="M471.50,335.00 C471.50,330.32 475.30,327.80 481.00,327.80 C486.70,327.80 490.50,330.32 490.50,335.00 Z" fill="#6a3c2e" stroke="#2e2224" stroke-width="0.6"/>
<line x1="24" y1="616.8" x2="66" y2="616.8" stroke="#222" stroke-width="1.1"/>
<text x="24" y="628.5" font-family="Liberation Sans" font-style="italic" font-size="7.3" fill="#1a1a1a" stroke="#1a1a1a" stroke-width="0.2">0.08 substitutions per site</text>
<rect x="260.9" y="588.2" width="86.5" height="41.5" fill="#ffffff" stroke="#444" stroke-width="1"/>
<circle cx="271" cy="595.9" r="3.6" fill="#ffffff" stroke="#3a3a3a" stroke-width="1.1"/>
<text x="280.2" y="598.6999999999999" font-family="Liberation Sans" font-style="italic" font-size="7.5" fill="#1a1a1a" stroke="#1a1a1a" stroke-width="0.2" xml:space="preserve">BS &gt; 50%</text>
<circle cx="271" cy="608.1" r="3.6" fill="#7a7a7a" stroke="#333333" stroke-width="1.1"/>
<text x="280.2" y="610.9" font-family="Liberation Sans" font-style="italic" font-size="7.5" fill="#1a1a1a" stroke="#1a1a1a" stroke-width="0.2" xml:space="preserve">80% ≤  BS ≤ 90%</text>
<circle cx="271" cy="621.3" r="3.6" fill="#111111" stroke="#111111" stroke-width="1.1"/>
<text x="280.2" y="624.0999999999999" font-family="Liberation Sans" font-style="italic" font-size="7.5" fill="#1a1a1a" stroke="#1a1a1a" stroke-width="0.2" xml:space="preserve">BS &gt; 90%</text></g></svg>
</body></html>
